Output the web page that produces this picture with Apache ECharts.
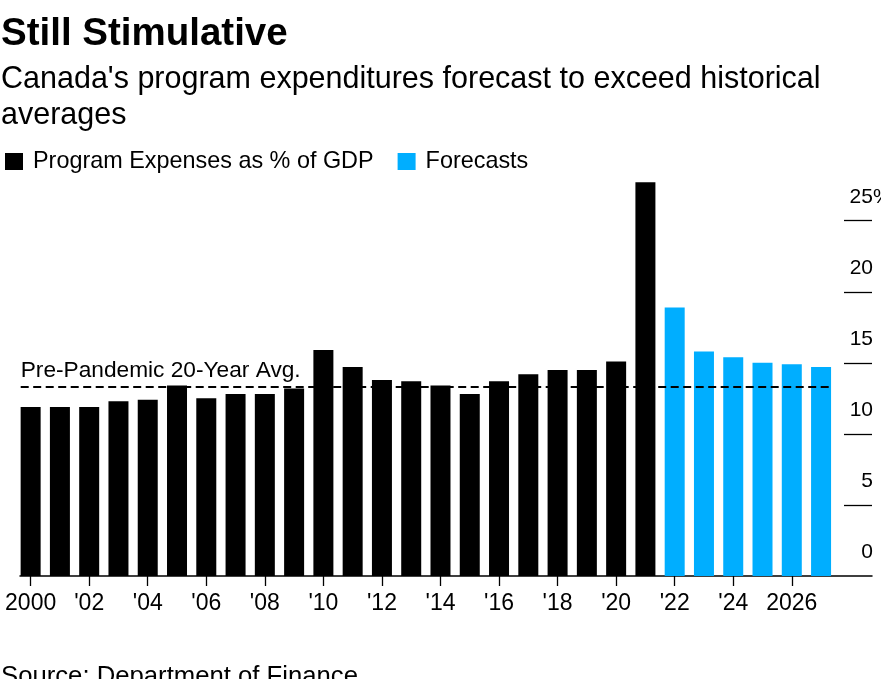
<!DOCTYPE html>
<html>
<head>
<meta charset="utf-8">
<script src="https://cdn.jsdelivr.net/npm/echarts@6/dist/echarts.min.js"></script>
<style>
html,body{margin:0;padding:0;background:#fff;}
#chart{width:881px;height:679px;}
</style>
</head>
<body>
<div id="chart"></div>
<script>
// ---- data ----
const years = ['2000','2001','2002','2003','2004','2005','2006','2007','2008','2009','2010','2011','2012','2013','2014','2015','2016','2017','2018','2019','2020','2021','2022','2023','2024','2025','2026','2027'];
const actualYears = ['2000','2001','2002','2003','2004','2005','2006','2007','2008','2009','2010','2011','2012','2013','2014','2015','2016','2017','2018','2019','2020','2021'];
const actualValues = [11.9,11.9,11.9,12.3,12.4,13.4,12.5,12.8,12.8,13.2,15.9,14.7,13.8,13.7,13.4,12.8,13.7,14.2,14.5,14.5,15.1,27.7];
const forecastYears = ['2022','2023','2024','2025','2026','2027'];
const forecastValues = [18.9,15.8,15.4,15.0,14.9,14.7];
const avgValue = 13.3;
const avgLabel = 'Pre-Pandemic 20-Year Avg.';
const yTickValues = [0,5,10,15,20,25];
const seriesNames = ['Program Expenses as % of GDP','Forecasts'];

// ---- build ----
const FONT = "'Liberation Sans', Arial, sans-serif";
const actualData = years.map(y => { const i = actualYears.indexOf(y); return i >= 0 ? actualValues[i] : '-'; });
const forecastData = years.map(y => { const i = forecastYears.indexOf(y); return i >= 0 ? forecastValues[i] : '-'; });

const chart = echarts.init(document.getElementById('chart'), null, {renderer:'canvas'});
const gridTop = 178.1, gridBottom = 103;
// value-axis extent matching category bands of grid 0 (band centers at integer years)
const xMin = 1999.634, xMax = 2028.743;
const avgStart = 1999.658, avgEnd = 2027.342;

chart.setOption({
  animation: false,
  backgroundColor: '#fff',
  title: [
    {text: 'Still Stimulative', left: 1, top: 15, padding: 0,
     textStyle: {fontFamily: FONT, fontSize: 38.5, fontWeight: 'bold', color: '#000', lineHeight: 38}},
    {text: "Canada's program expenditures forecast to exceed historical\naverages", left: 1, top: 62, padding: 0,
     textStyle: {fontFamily: FONT, fontSize: 30.5, fontWeight: 'normal', color: '#000', lineHeight: 36}},
    {text: 'Source: Department of Finance', left: 1, top: 664, padding: 0,
     textStyle: {fontFamily: FONT, fontSize: 25.7, fontWeight: 'normal', color: '#000', lineHeight: 25}}
  ],
  legend: {
    data: seriesNames,
    left: 5, top: 150, padding: 0,
    icon: 'rect', itemWidth: 18, itemHeight: 17, itemGap: 24,
    selectedMode: false,
    textStyle: {fontFamily: FONT, fontSize: 23.4, color: '#000', lineHeight: 23, padding: [0,0,0,5]}
  },
  grid: [
    {left: 16, right: 45.3, top: gridTop, bottom: gridBottom, outerBoundsMode: 'none', containLabel: false},
    {left: 20, right: 9, top: gridTop, bottom: gridBottom, outerBoundsMode: 'none', containLabel: false}
  ],
  xAxis: [
    {type: 'category', gridIndex: 0, data: years, boundaryGap: true,
     axisLine: {show: false},
     axisTick: {show: true, interval: 1, alignWithLabel: true, length: 10, lineStyle: {color: '#000', width: 1.3}},
     axisLabel: {interval: 1, margin: 16, fontFamily: FONT, fontSize: 23, color: '#000',
       formatter: (v) => (v === '2000' || v === '2026') ? v : "'" + v.slice(2)}},
    {type: 'value', gridIndex: 1, min: xMin, max: xMax,
     axisLine: {show: true, lineStyle: {color: '#000', width: 1.5}},
     axisTick: {show: false}, axisLabel: {show: false}, splitLine: {show: false}}
  ],
  yAxis: [
    {type: 'value', gridIndex: 0, min: 0, max: 28, show: false, splitLine: {show: false}},
    {type: 'value', gridIndex: 1, min: 0, max: 28, position: 'right',
     axisLine: {show: false}, splitLine: {show: false},
     axisTick: {show: true, inside: true, length: 28, customValues: yTickValues.filter(v => v > 0),
       lineStyle: {color: '#000', width: 1.3}},
     axisLabel: {show: true, inside: true, margin: -1, customValues: yTickValues,
       align: 'right', verticalAlign: 'middle', padding: [0,0,47,0],
       fontFamily: FONT, fontSize: 21, color: '#000',
       formatter: (v) => v === 25 ? '{n|25}{p|%}' : '{n|' + v + '}',
       rich: {
         n: {fontFamily: FONT, fontSize: 21, color: '#000', align: 'left'},
         p: {fontFamily: FONT, fontSize: 21, color: '#000', align: 'left', width: 0.1}
       }}}
  ],
  series: [
    {name: seriesNames[0], type: 'bar', xAxisIndex: 0, yAxisIndex: 0, data: actualData,
     barWidth: 20, barGap: '-100%', itemStyle: {color: '#000'}},
    {name: seriesNames[1], type: 'bar', xAxisIndex: 0, yAxisIndex: 0, data: forecastData,
     barWidth: 20, barGap: '-100%', itemStyle: {color: '#00aeff'}},
    {name: 'avg', type: 'line', xAxisIndex: 1, yAxisIndex: 1, data: [], z: 10,
     markLine: {
       silent: true, symbol: 'none', animation: false,
       lineStyle: {type: [8, 4.5], color: '#000', width: 2},
       label: {show: true, position: 'insideStartTop', distance: [0, 5], formatter: avgLabel,
         fontFamily: FONT, fontSize: 22.7, color: '#000'},
       data: [[{coord: [avgStart, avgValue]}, {coord: [avgEnd, avgValue]}]]
     }}
  ]
});
</script>
</body>
</html>
